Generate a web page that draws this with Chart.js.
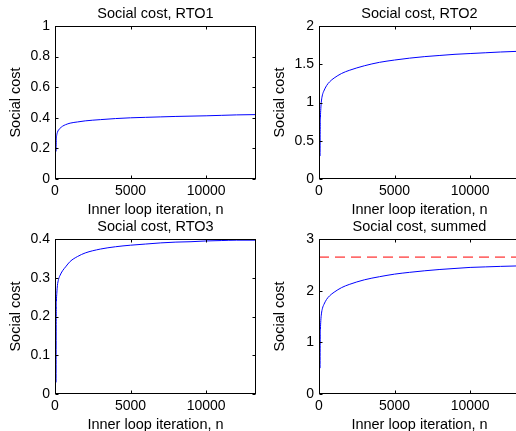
<!DOCTYPE html>
<html>
<head>
<meta charset="utf-8">
<script src="https://cdn.jsdelivr.net/npm/chart.js@4"></script>
<style>
  html, body { margin: 0; padding: 0; background: #fff; overflow: hidden; width: 516px; height: 431px; }
  .panel { position: absolute; }
</style>
</head>
<body>
<div class="panel" style="left:0px;top:0px"><canvas id="rto1" width="258" height="225"></canvas></div>
<div class="panel" style="left:264px;top:0px"><canvas id="rto2" width="258" height="225"></canvas></div>
<div class="panel" style="left:0px;top:213px"><canvas id="rto3" width="258" height="227"></canvas></div>
<div class="panel" style="left:264px;top:213px"><canvas id="summed" width="258" height="227"></canvas></div>
<script>
const iterations = [70, 80, 95, 120, 160, 230, 320, 500, 700, 1000, 1500, 2000, 3000, 4000, 5000, 6000, 7000, 8000, 9000, 10000, 11000, 12000, 13300];
const costRTO1 = [0.18, 0.24, 0.27, 0.29, 0.305, 0.32, 0.33, 0.345, 0.355, 0.365, 0.373, 0.38, 0.388, 0.395, 0.40, 0.403, 0.406, 0.409, 0.411, 0.413, 0.416, 0.419, 0.421];
const costRTO2 = [0.3, 0.65, 0.8, 0.92, 1.02, 1.1, 1.15, 1.22, 1.27, 1.32, 1.38, 1.42, 1.48, 1.525, 1.555, 1.58, 1.60, 1.615, 1.63, 1.64, 1.65, 1.66, 1.67];
const costRTO3 = [0.03, 0.2, 0.24, 0.26, 0.28, 0.295, 0.305, 0.318, 0.328, 0.342, 0.355, 0.364, 0.374, 0.38, 0.384, 0.387, 0.39, 0.392, 0.393, 0.395, 0.396, 0.397, 0.397];
const costSummed = [0.5, 1.05, 1.25, 1.42, 1.55, 1.66, 1.73, 1.83, 1.9, 1.97, 2.06, 2.12, 2.21, 2.27, 2.32, 2.355, 2.385, 2.41, 2.43, 2.45, 2.46, 2.47, 2.48];
const referenceCost = 2.65;

const xTicks = [0, 5000, 10000];
const xMax = 13300;
const yTicksRTO1 = [0, 0.2, 0.4, 0.6, 0.8, 1];
const yTicksRTO2 = [0, 0.5, 1, 1.5, 2];
const yTicksRTO3 = [0, 0.1, 0.2, 0.3, 0.4];
const yTicksSummed = [0, 1, 2, 3];

const FONT = "'Liberation Sans', Arial, Helvetica, sans-serif";
Chart.defaults.color = "#000";
Chart.defaults.font.family = FONT;

function toPoints(values) {
    return iterations.map((n, i) => ({ x: n, y: values[i] }));
}

function blueLine(values) {
    return {
        data: toPoints(values),
        borderColor: "rgb(0, 0, 255)",
        borderWidth: 1,
        pointRadius: 0,
        cubicInterpolationMode: "monotone",
    };
}

// MATLAB-like box with inward tick marks
const boxPlugin = {
    id: "box",
    afterDraw(chart) {
        const ctx = chart.ctx;
        const a = chart.chartArea;
        const l = Math.round(a.left) + 0.5, r = Math.round(a.right) - 0.5;
        const t = Math.round(a.top) + 0.5, b = Math.round(a.bottom) - 0.5;
        ctx.save();
        ctx.setLineDash([]);
        ctx.strokeStyle = "#000";
        ctx.lineWidth = 1;
        ctx.strokeRect(l, t, r - l, b - t);
        ctx.beginPath();
        chart.scales.x.ticks.forEach(tk => {
            const px = Math.round(chart.scales.x.getPixelForValue(tk.value)) + 0.5;
            ctx.moveTo(px, b); ctx.lineTo(px, b - 3);
            ctx.moveTo(px, t); ctx.lineTo(px, t + 3);
        });
        chart.scales.y.ticks.forEach(tk => {
            const py = Math.round(chart.scales.y.getPixelForValue(tk.value)) + 0.5;
            ctx.moveTo(l, py); ctx.lineTo(l + 3, py);
            ctx.moveTo(r, py); ctx.lineTo(r - 3, py);
        });
        ctx.stroke();
        ctx.restore();
    }
};

function makeChart(id, title, yTicks, datasets) {
    const ctx = document.getElementById(id).getContext("2d");
    return new Chart(ctx, {
        type: "line",
        data: { datasets: datasets },
        plugins: [boxPlugin],
        options: {
            responsive: false,
            animation: false,
            devicePixelRatio: 1,
            layout: { padding: { left: 0, right: 2, top: 0, bottom: 0 } },
            plugins: {
                legend: { display: false },
                tooltip: { enabled: false },
                title: { display: false },
            },
            scales: {
                x: {
                    type: "linear",
                    position: "bottom",
                    min: 0,
                    max: xMax,
                    grid: { display: false, drawTicks: false },
                    border: { display: false },
                    afterBuildTicks: s => { s.ticks = xTicks.map(v => ({ value: v })); },
                    afterFit: s => { s.height = 46; },
                    ticks: {
                        padding: 4,
                        maxRotation: 0,
                        font: { size: 14 },
                        callback: v => String(v),
                    },
                    title: {
                        display: true,
                        text: "Inner loop iteration, n",
                        font: { size: 14.5 },
                        padding: { top: 0, bottom: 6.5 },
                    },
                },
                top: {
                    type: "linear",
                    axis: "x",
                    position: "top",
                    min: 0,
                    max: xMax,
                    grid: { display: false, drawTicks: false },
                    border: { display: false },
                    ticks: { display: false },
                    afterFit: s => { s.height = 26; },
                    title: {
                        display: true,
                        text: title,
                        font: { size: 14.5 },
                        padding: { top: 5.5, bottom: 0 },
                    },
                },
                y: {
                    min: yTicks[0],
                    max: yTicks[yTicks.length - 1],
                    grid: { display: false, drawTicks: false },
                    border: { display: false },
                    afterBuildTicks: s => { s.ticks = yTicks.map(v => ({ value: v })); },
                    afterFit: s => { s.width = 55; },
                    ticks: {
                        padding: 5,
                        font: { size: 14 },
                        callback: v => String(v),
                    },
                    title: {
                        display: true,
                        text: "Social cost",
                        font: { size: 14.5 },
                        padding: { top: 7, bottom: 0 },
                    },
                },
            },
        },
    });
}

makeChart("rto1", "Social cost, RTO1", yTicksRTO1, [blueLine(costRTO1)]);
makeChart("rto2", "Social cost, RTO2", yTicksRTO2, [blueLine(costRTO2)]);
makeChart("rto3", "Social cost, RTO3", yTicksRTO3, [blueLine(costRTO3)]);
makeChart("summed", "Social cost, summed", yTicksSummed, [
    blueLine(costSummed),
    {
        data: [{ x: 0, y: referenceCost }, { x: xMax, y: referenceCost }],
        borderColor: "rgb(255, 0, 0)",
        borderWidth: 1,
        borderDash: [10, 6],
        pointRadius: 0,
    },
]);
</script>
</body>
</html>
